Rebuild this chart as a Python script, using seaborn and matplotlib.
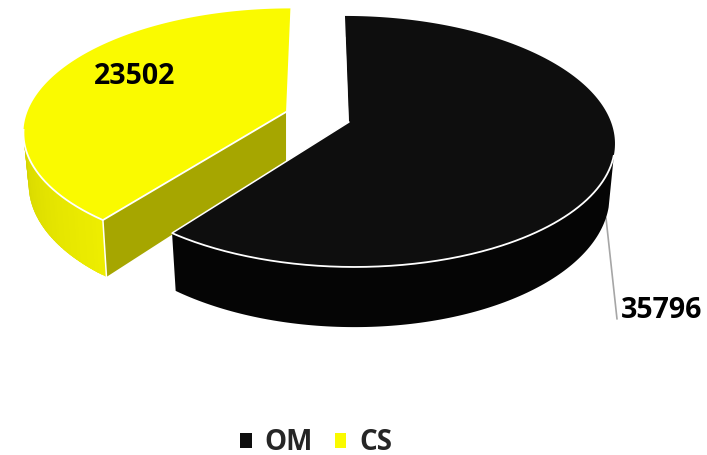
import numpy as np
import matplotlib
matplotlib.use("Agg")
import matplotlib.pyplot as plt
from matplotlib.patches import Patch
import seaborn as sns

# values
labels = ["OM", "CS"]
values = [35796, 23502]
colors = ["#0e0e0e", "#fafa00"]

sns.set_style("white")
plt.rcParams["font.family"] = ["Open Sans", "DejaVu Sans"]

fractions = np.array(values) / sum(values)
split = 360 * fractions[0]

# perspective of the pie plane, in image pixels
VX, CY, K = 319, 122, 0.155
A, B = 262, 122.5
DEPTH_Y, LOWER_X, LOWER_Y = 50, 0.98, 1.07


def project(theta, x0=30.0, v0=0.0, lower=False):
    t = np.radians(theta)
    u = np.sin(t)
    v = v0 + np.cos(t)
    a = A * LOWER_X if lower else A
    b = B * LOWER_Y if lower else B
    cy = CY + DEPTH_Y if lower else CY
    d = 1 + K * v
    return VX + (x0 + a * u) / d, cy - b * v / d


def centre(x0=30.0, v0=0.0, lower=False):
    b = B * LOWER_Y if lower else B
    cy = CY + DEPTH_Y if lower else CY
    d = 1 + K * v0
    return np.array([VX + x0 / d]), np.array([cy - b * v0 / d])


def face(ax, a0, a1, color, **kw):
    th = np.linspace(a0, a1, 200)
    x, y = project(th, **kw)
    cx, cy = centre(**kw)
    ax.fill(np.r_[cx, x], np.r_[cy, y], color=color, lw=0)


def side(ax, a0, a1, c0, c1, n=40, **kw):
    # strips so the outer wall can carry a shading gradient, each one overlaps the next
    edges = np.linspace(a0, a1, n + 1)
    c0, c1 = np.array(c0), np.array(c1)
    for i in range(n):
        th = np.linspace(edges[i], min(edges[i + 1] + 2.0, a1), 120)
        xt, yt = project(th, **kw)
        xb, yb = project(th, lower=True, **kw)
        col = c0 + (c1 - c0) * i / max(n - 1, 1)
        ax.fill(np.r_[xt, xb[::-1]], np.r_[yt, yb[::-1]], color=col, lw=0)


def rim(ax, a0, a1, lw=1.3, **kw):
    th = np.linspace(a0, a1, 200)
    x, y = project(th, **kw)
    ax.plot(x, y, color="white", lw=lw, solid_capstyle="butt")


fig = plt.figure(figsize=(7.07, 4.55), dpi=100)
ax = fig.add_axes([0, 0, 1, 1])
ax.set_xlim(0, 707)
ax.set_ylim(455, 0)
ax.axis("off")

# CS slice, pulled out of the pie
cs = dict(x0=-33.4, v0=0.083)
xa, ya = centre(**cs)
xal, yal = centre(lower=True, **cs)
xc, yc = project(split, **cs)
xcl, ycl = project(split, lower=True, **cs)
ax.fill([xa[0], xc, xcl, xal[0]], [ya[0], yc, ycl, yal[0]], color="#a6a600", lw=0)
side(ax, split, 262, (0.93, 0.93, 0), (0.84, 0.84, 0), **cs)
face(ax, split, 360, colors[1], **cs)
rim(ax, split, 262, **cs)
ax.plot([xa[0], xc], [ya[0], yc], color="white", lw=1.3)
ax.plot([xc, xcl], [yc, ycl], color="white", lw=1.1)

# OM slice
xb0, yb0 = centre()
side(ax, 105, split, (0.02, 0.02, 0.02), (0.02, 0.02, 0.02), n=1)
face(ax, 0, split, colors[0])
rim(ax, 105, split)
xc, yc = project(split)
ax.plot([xb0[0], xc], [yb0[0], yc], color="white", lw=1.1)
xt, yt = project(0.0)
ax.plot([xb0[0] - 1, xb0[0] - 1 + (xt - xb0[0]) * 0.8],
        [yb0[0], yb0[0] + (yt - yb0[0]) * 0.8], color="white", lw=0.9)

# data labels
ax.text(134.5, 76, str(values[1]), fontsize=20.5, fontweight="bold", color="black",
        ha="center", va="center")
ax.text(662, 310, str(values[0]), fontsize=20.5, fontweight="bold", color="black",
        ha="center", va="center")
ax.plot([606, 617], [218, 319], color="#a6a6a6", lw=1.2, zorder=0)

handles = [Patch(color=c, lw=0) for c in colors]
ax.legend(handles, labels, ncol=2, loc="center", bbox_to_anchor=(0.447, 0.0265),
          frameon=False, prop={"size": 20, "weight": "bold"}, handlelength=0.42,
          handleheight=0.42, handletextpad=0.45, columnspacing=0.8,
          borderpad=0, borderaxespad=0)

fig.savefig("out.png", dpi=100)
